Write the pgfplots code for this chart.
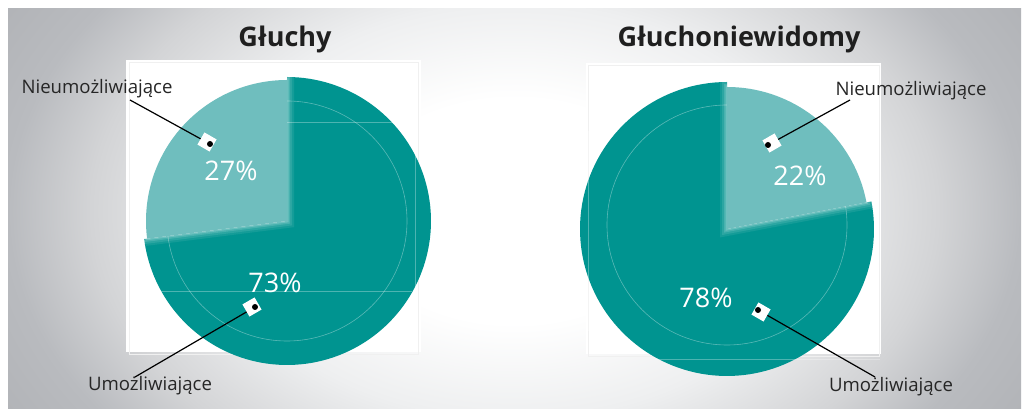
\documentclass[border=0pt]{standalone}
\usepackage{pgfplots}
\pgfplotsset{compat=1.18}
\usepackage{fontspec}
\setmainfont{Open Sans}
\definecolor{darkteal}{HTML}{009490}
\definecolor{lightteal}{HTML}{6FBEBE}
\definecolor{edgegray}{HTML}{B9BBBF}
\definecolor{midgray}{HTML}{D3D4D6}
\definecolor{lightgray}{HTML}{EEEFF0}
\pgfdeclareradialshading{bgshade}{\pgfpoint{0bp}{0bp}}{color(0bp)=(white); color(8bp)=(white); color(14.8bp)=(lightgray); color(20.9bp)=(midgray); color(25bp)=(edgegray); color(30bp)=(edgegray!95!black); color(50bp)=(edgegray!95!black)}
\pgfplotsset{
  glowL/.style={draw=white, variable=\t, domain=90:{90+3.6*27}, samples=80},
  glowR/.style={draw=white, variable=\t, domain={90-3.6*22}:90, samples=80},
}
\begin{document}
\begin{tikzpicture}
\begin{axis}[
  width=514.5pt, height=205.5pt, scale only axis,
  xmin=0, xmax=1029, ymin=0, ymax=411,
  hide axis, clip=false,
]
% canvas
\fill[white] (axis cs:0,0) rectangle (axis cs:1029,411);
% background panel
\begin{scope}
\clip (axis cs:8,2) rectangle (axis cs:1021,402);
\shade[shading=bgshade] (axis cs:8,-150) rectangle (axis cs:1021,550);
\end{scope}
% white squares
\fill[white] (axis cs:126,59) rectangle (axis cs:421,351);
\draw[black!6, line width=0.4pt] (axis cs:129,57) rectangle (axis cs:418,349);
\fill[white] (axis cs:586,57) rectangle (axis cs:881,348);
\draw[black!6, line width=0.4pt] (axis cs:588,55) rectangle (axis cs:879,346);

% ---------- Left pie: Gluchy (27 / 73) ----------
\addplot[fill=darkteal, draw=none, variable=\t, domain={90+3.6*27}:450, samples=120]
  ({287+144*cos(\t)}, {190+144*sin(\t)}) -- (axis cs:287,190) -- cycle;
\draw[white, opacity=0.35, line width=0.3pt] (axis cs:287,190) circle[radius=60pt];
\draw[white, opacity=0.3, line width=0.4pt] (axis cs:287,289) -- (axis cs:418,289);
\draw[white, opacity=0.3, line width=0.4pt] (axis cs:160,120) -- (axis cs:412,120);
\draw[white, opacity=0.3, line width=0.4pt] (axis cs:415,115) -- (axis cs:415,293);
\addplot[glowL, line width=7pt, opacity=0.08] ({287+141*cos(\t)}, {190+141*sin(\t)}) -- (axis cs:287,190) -- cycle;
\addplot[glowL, line width=5pt, opacity=0.10] ({287+141*cos(\t)}, {190+141*sin(\t)}) -- (axis cs:287,190) -- cycle;
\addplot[glowL, line width=3pt, opacity=0.14] ({287+141*cos(\t)}, {190+141*sin(\t)}) -- (axis cs:287,190) -- cycle;
\addplot[glowL, line width=1.5pt, opacity=0.2] ({287+141*cos(\t)}, {190+141*sin(\t)}) -- (axis cs:287,190) -- cycle;
\addplot[fill=lightteal, draw=none, variable=\t, domain=90:{90+3.6*27}, samples=80]
  ({287+141*cos(\t)}, {190+141*sin(\t)}) -- (axis cs:287,190) -- cycle;

% ---------- Right pie: Gluchoniewidomy (22 / 78) ----------
\addplot[fill=darkteal, draw=none, variable=\t, domain=90:{450-3.6*22}, samples=120]
  ({727+147*cos(\t)}, {182+147*sin(\t)}) -- (axis cs:727,182) -- cycle;
\draw[white, opacity=0.35, line width=0.3pt] (axis cs:727,186) circle[radius=60pt];
\draw[white, opacity=0.3, line width=0.4pt] (axis cs:655,52) -- (axis cs:880,52);
\draw[white, opacity=0.3, line width=0.4pt] (axis cs:588,80) -- (axis cs:588,280);
\addplot[glowR, line width=7pt, opacity=0.08] ({727+142*cos(\t)}, {182+142*sin(\t)}) -- (axis cs:727,182) -- cycle;
\addplot[glowR, line width=5pt, opacity=0.10] ({727+142*cos(\t)}, {182+142*sin(\t)}) -- (axis cs:727,182) -- cycle;
\addplot[glowR, line width=3pt, opacity=0.14] ({727+142*cos(\t)}, {182+142*sin(\t)}) -- (axis cs:727,182) -- cycle;
\addplot[glowR, line width=1.5pt, opacity=0.2] ({727+142*cos(\t)}, {182+142*sin(\t)}) -- (axis cs:727,182) -- cycle;
\addplot[fill=lightteal, draw=none, variable=\t, domain={90-3.6*22}:90, samples=80]
  ({727+142*cos(\t)}, {182+142*sin(\t)}) -- (axis cs:727,182) -- cycle;

% ---------- Titles ----------
\node[anchor=base, font=\fontsize{13.5}{16}\selectfont\bfseries, text=black!88] at (axis cs:285,364) {Głuchy};
\node[anchor=base, font=\fontsize{13.5}{16}\selectfont\bfseries, text=black!88] at (axis cs:739,364) {Głuchoniewidomy};

% ---------- Percentages ----------
\node[font=\fontsize{13.5}{16}\selectfont, text=white] at (axis cs:231,240) {27\%};
\node[font=\fontsize{13.5}{16}\selectfont, text=white] at (axis cs:275,128) {73\%};
\node[font=\fontsize{13.5}{16}\selectfont, text=white] at (axis cs:800,235) {22\%};
\node[font=\fontsize{13.5}{16}\selectfont, text=white] at (axis cs:706,113) {78\%};

% ---------- Leader lines ----------
\draw[black, line width=0.6pt] (axis cs:130,311) -- (axis cs:210,267);
\node[fill=white, minimum size=7pt, inner sep=0pt, rotate=-30] at (axis cs:207,269) {};
\fill[black] (axis cs:210,267) circle[radius=1.5pt];
\draw[black, line width=0.6pt] (axis cs:135,34) -- (axis cs:255,104);
\node[fill=white, minimum size=7pt, inner sep=0pt, rotate=30] at (axis cs:252,104) {};
\fill[black] (axis cs:255,104) circle[radius=1.5pt];

\draw[black, line width=0.6pt] (axis cs:850,311) -- (axis cs:768,266);
\node[fill=white, minimum size=7pt, inner sep=0pt, rotate=30] at (axis cs:772,268) {};
\fill[black] (axis cs:768,266) circle[radius=1.5pt];
\draw[black, line width=0.6pt] (axis cs:875,34) -- (axis cs:758,101);
\node[fill=white, minimum size=7pt, inner sep=0pt, rotate=-30] at (axis cs:761,99) {};
\fill[black] (axis cs:758,101) circle[radius=1.5pt];

% ---------- Category labels ----------
\node[font=\fontsize{9.3}{11}\selectfont, text=black!85] at (axis cs:97,322) {Nieumożliwiające};
\node[font=\fontsize{9.3}{11}\selectfont, text=black!85] at (axis cs:150,25) {Umożliwiające};
\node[font=\fontsize{9.3}{11}\selectfont, text=black!85] at (axis cs:911,320) {Nieumożliwiające};
\node[font=\fontsize{9.3}{11}\selectfont, text=black!85] at (axis cs:891,24) {Umożliwiające};
\end{axis}
\end{tikzpicture}
\end{document}
